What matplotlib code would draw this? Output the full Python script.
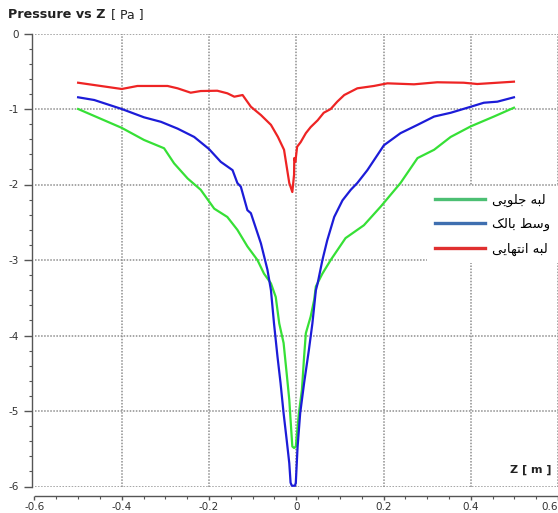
import matplotlib
matplotlib.use("Agg")
from matplotlib import pyplot as plt
from matplotlib.ticker import MultipleLocator, FormatStrFormatter

plt.rcParams['axes.unicode_minus'] = False

# Z [m] and pressure [Pa]
red_z = [-0.500, -0.400, -0.364, -0.295, -0.272, -0.242, -0.219, -0.181, -0.158, -0.142,
         -0.123, -0.104, -0.081, -0.058, -0.042, -0.028, -0.016, -0.009, -0.005, -0.0045,
         -0.002, 0.002, 0.010, 0.022, 0.033, 0.049, 0.063, 0.079, 0.094, 0.110,
         0.140, 0.178, 0.209, 0.270, 0.323, 0.384, 0.415, 0.461, 0.499]
red_p = [-0.652, -0.735, -0.695, -0.695, -0.726, -0.784, -0.762, -0.758, -0.792, -0.837,
         -0.815, -0.970, -1.08, -1.21, -1.37, -1.54, -1.98, -2.10, -1.87, -1.65,
         -1.70, -1.50, -1.44, -1.32, -1.24, -1.15, -1.05, -1.00, -0.903, -0.815,
         -0.726, -0.695, -0.660, -0.673, -0.646, -0.652, -0.669, -0.652, -0.638]

blue_z = [-0.500, -0.463, -0.400, -0.349, -0.310, -0.272, -0.234, -0.200, -0.173, -0.146,
          -0.135, -0.127, -0.112, -0.104, -0.081, -0.066, -0.058, -0.051, -0.043, -0.036,
          -0.029, -0.022, -0.016, -0.013, -0.010, -0.003, -0.001, 0.003, 0.009, 0.018,
          0.029, 0.037, 0.045, 0.049, 0.060, 0.071, 0.087, 0.106, 0.125, 0.140,
          0.163, 0.201, 0.239, 0.278, 0.316, 0.354, 0.400, 0.430, 0.461, 0.499]
blue_p = [-0.845, -0.881, -1.00, -1.11, -1.17, -1.26, -1.37, -1.53, -1.70, -1.81,
          -1.98, -2.03, -2.34, -2.38, -2.78, -3.13, -3.40, -3.84, -4.28, -4.63,
          -5.03, -5.38, -5.69, -5.95, -5.99, -5.99, -5.95, -5.48, -5.03, -4.63,
          -4.19, -3.84, -3.40, -3.31, -3.00, -2.74, -2.43, -2.21, -2.07, -1.98,
          -1.81, -1.48, -1.32, -1.21, -1.10, -1.05, -0.970, -0.917, -0.903, -0.845]

green_z = [-0.500, -0.400, -0.349, -0.303, -0.280, -0.249, -0.219, -0.188, -0.158, -0.135,
           -0.112, -0.089, -0.074, -0.058, -0.047, -0.039, -0.029, -0.022, -0.016, -0.013,
           -0.009, -0.005, -0.001, 0.006, 0.013, 0.018, 0.022, 0.033, 0.041, 0.045,
           0.060, 0.079, 0.113, 0.155, 0.194, 0.239, 0.278, 0.316, 0.354, 0.400,
           0.453, 0.499]
green_p = [-1.00, -1.25, -1.41, -1.52, -1.72, -1.92, -2.07, -2.32, -2.43, -2.60,
           -2.82, -3.00, -3.18, -3.31, -3.49, -3.84, -4.10, -4.50, -4.85, -5.12,
           -5.47, -5.49, -5.47, -5.03, -4.72, -4.28, -3.97, -3.75, -3.53, -3.35,
           -3.18, -3.00, -2.71, -2.54, -2.29, -1.98, -1.65, -1.54, -1.37, -1.23,
           -1.10, -0.983]

# legend labels (Persian, pre-shaped presentation forms in visual order)
label_green = "\uFEF0\uFEF3\uFEEE\uFEE0\uFE9F \uFEEA\uFE92\uFEDF"          # لبه جلویی
label_blue = "\uFB8F\uFEDF\uFE8E\uFE91 \uFEC2\uFEB3\uFEED"                 # وسط بالک
label_red = "\uFEF0\uFEF3\uFE8E\uFEEC\uFE98\uFEE7\uFE8D \uFEEA\uFE92\uFEDF"  # لبه انتهایی

fig = plt.figure(figsize=(5.58, 5.13), dpi=100)
ax = fig.add_axes([34.5 / 558, 1 - 486.5 / 513, 1 - 34.5 / 558, 453 / 513])

ax.plot(green_z, green_p, color="#36e036", linewidth=1.6, zorder=3)
ax.plot(blue_z, blue_p, color="#1c1cd8", linewidth=1.6, zorder=3)
ax.plot(red_z, red_p, color="#ee2424", linewidth=1.6, zorder=3)

ax.set_xlim(-0.6, 0.6)
ax.set_ylim(-6, 0)
ax.xaxis.set_major_locator(MultipleLocator(0.2))
ax.xaxis.set_minor_locator(MultipleLocator(0.05))
ax.yaxis.set_major_locator(MultipleLocator(1))
ax.yaxis.set_minor_locator(MultipleLocator(0.2))
ax.xaxis.set_major_formatter(FormatStrFormatter('%g'))
ax.yaxis.set_major_formatter(FormatStrFormatter('%g'))

ax.grid(True, which='major', color="#8e8e8e", linestyle=(0, (1, 1)), linewidth=1.1)
ax.set_axisbelow(True)

for side in ["top", "right"]:
    ax.spines[side].set_visible(False)
ax.spines["left"].set_position(("outward", 2))
ax.spines["bottom"].set_position(("outward", 7))
for side in ["left", "bottom"]:
    ax.spines[side].set_color("#555555")
    ax.spines[side].set_linewidth(1.0)

ax.tick_params(which='major', width=1, color="#555555", labelsize=7.5, labelcolor="#333333")
ax.tick_params(axis='y', which='major', length=6, pad=3)
ax.tick_params(axis='x', which='major', length=3, pad=1)
ax.tick_params(which='minor', length=2.5, width=0.8, color="#555555")

# keep the last x label inside the picture, as in the original
fig.canvas.draw()
for lab in ax.get_xticklabels():
    if lab.get_text() == "0.6":
        lab.set_horizontalalignment("right")

t1 = fig.text(8 / 558, 1 - 15 / 513, "Pressure vs Z", fontsize=9.2, fontweight="bold",
              va="center", ha="left", color="#222222")
ax.annotate("[ Pa ]", xy=(1, 0.5), xycoords=t1, xytext=(4, 0), textcoords="offset points",
            fontsize=9, va="center", ha="left", color="#222222")

ax.text(0.988, 0.036, "Z [ m ]", transform=ax.transAxes, fontsize=8, fontweight="bold",
        ha="right", va="center", color="#222222")

h_green, = ax.plot([], [], color="#4cbf73", linewidth=2.4)
h_blue, = ax.plot([], [], color="#3f6fb0", linewidth=2.4)
h_red, = ax.plot([], [], color="#e03030", linewidth=2.4)
leg = ax.legend([h_green, h_blue, h_red], [label_green, label_blue, label_red],
                loc="upper right", bbox_to_anchor=(1.0, 0.664), borderaxespad=0,
                frameon=True, fancybox=False, framealpha=1, edgecolor="none",
                handlelength=3.8, handletextpad=0.5, labelspacing=0.85,
                borderpad=0.6, prop={"family": ["DejaVu Sans"], "size": 9.5})
leg.set_zorder(5)

fig.savefig("out.png", dpi=100)
